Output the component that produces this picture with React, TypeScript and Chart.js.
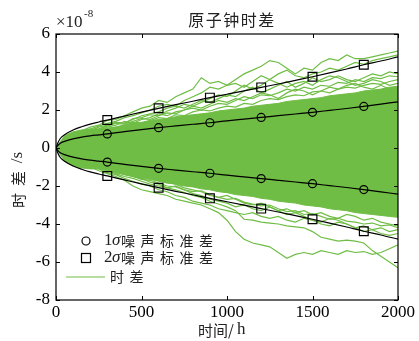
import React, { useEffect, useRef } from "react";
import { Chart, registerables } from "chart.js";
Chart.register(...registerables);

const hours = [0,50,100,150,200,250,300,350,400,450,500,550,600,650,700,750,800,850,900,950,1000,1050,1100,1150,1200,1250,1300,1350,1400,1450,1500,1550,1600,1650,1700,1750,1800,1850,1900,1950,2000];

const coreUpper = [0,0.65,0.85,0.95,1.0,1.0,1.05,1.1,1.2,1.3,1.35,1.45,1.5,1.55,1.65,1.7,1.75,1.8,1.85,1.95,2.0,2.05,2.1,2.2,2.25,2.3,2.35,2.45,2.5,2.55,2.6,2.65,2.75,2.8,2.85,2.9,3.0,3.05,3.1,3.2,3.25];
const coreLower = [0,-0.7,-0.95,-1.05,-1.1,-1.1,-1.2,-1.3,-1.4,-1.5,-1.6,-1.65,-1.75,-1.85,-1.9,-2.0,-2.05,-2.15,-2.2,-2.3,-2.35,-2.45,-2.5,-2.55,-2.65,-2.7,-2.8,-2.85,-2.9,-3.0,-3.05,-3.1,-3.2,-3.25,-3.3,-3.4,-3.45,-3.5,-3.55,-3.6,-3.65];

const clockA = [0,0.4,0.7,0.9,1.1,1.2,1.45,1.5,1.7,1.9,2.1,2.2,2.5,2.4,2.7,2.9,3.1,3.7,3.4,3.5,3.3,3.6,3.9,4.1,4.3,4.6,4.5,4.2,3.9,4.2,4.1,4.5,4.7,4.6,4.9,4.7,4.7,4.8,4.9,5.0,5.1];
const clockB = [0,0.3,0.6,0.8,1.0,1.15,1.3,1.4,1.6,1.7,1.85,2.0,2.2,2.3,2.2,2.5,2.7,2.9,3.2,3.1,3.3,3.4,3.2,3.5,3.8,3.6,3.9,4.1,3.8,3.7,3.9,4.0,4.2,4.1,4.3,4.5,4.4,4.6,4.7,4.8,4.9];
const clockC = [0,0.4,0.5,0.75,0.9,1.1,1.2,1.35,1.3,1.5,1.7,1.8,1.9,2.1,2.2,2.1,2.3,2.5,2.4,2.6,2.8,2.7,3.0,3.2,2.9,3.1,3.3,3.5,3.2,3.4,3.7,3.5,3.6,3.8,3.6,3.5,3.7,3.9,3.8,4.0,3.9];
const clockD = [0,0.2,0.5,0.6,0.8,0.95,1.1,1.2,1.4,1.3,1.5,1.6,1.8,1.7,1.9,2.0,2.2,2.1,2.3,2.5,2.4,2.6,2.5,2.7,2.9,2.8,2.6,2.9,3.1,3.0,2.8,3.0,3.2,3.1,3.3,3.4,3.2,3.1,3.3,3.1,3.0];
const clockE = [0,0.35,0.45,0.7,0.85,1.0,1.2,1.35,1.3,1.55,1.6,1.75,1.7,1.95,2.1,2.3,2.2,2.4,2.6,2.8,2.7,3.0,3.3,3.1,3.3,3.6,3.4,3.2,3.4,3.5,3.3,3.6,3.8,3.7,3.5,3.3,3.4,3.6,3.5,3.3,3.4];
const clockF = [0,-0.4,-0.6,-0.8,-1.0,-1.2,-1.35,-1.5,-1.7,-2.0,-2.2,-2.3,-2.4,-2.5,-2.7,-2.8,-2.9,-3.0,-3.2,-3.4,-3.8,-4.4,-4.8,-5.0,-5.1,-5.2,-5.5,-5.8,-5.6,-5.5,-5.6,-5.4,-5.5,-5.6,-5.4,-5.5,-5.45,-5.6,-5.5,-5.3,-5.1];
const clockG = [0,-0.3,-0.55,-0.7,-0.9,-1.05,-1.2,-1.35,-1.5,-1.6,-1.75,-1.9,-2.0,-2.1,-2.2,-2.35,-2.5,-2.6,-2.8,-2.95,-3.1,-3.3,-3.75,-3.8,-3.9,-3.95,-4.0,-4.1,-4.15,-4.2,-4.4,-4.7,-4.8,-4.9,-4.85,-4.9,-5.0,-5.4,-5.7,-6.0,-6.3];
const clockH = [0,-0.35,-0.5,-0.75,-0.95,-1.1,-1.3,-1.4,-1.6,-1.75,-1.9,-2.0,-2.2,-2.3,-2.5,-2.6,-2.8,-2.9,-3.0,-3.2,-3.3,-3.4,-3.5,-3.4,-3.6,-3.7,-3.6,-3.8,-3.9,-3.7,-3.8,-4.0,-4.1,-3.9,-4.0,-4.2,-4.4,-4.3,-4.5,-4.6,-4.5];
const clockI = [0,-0.3,-0.45,-0.6,-0.8,-0.95,-1.1,-1.25,-1.4,-1.5,-1.6,-1.8,-1.9,-2.1,-2.0,-2.2,-2.4,-2.5,-2.7,-2.8,-2.9,-3.1,-3.0,-3.2,-3.3,-3.1,-3.3,-3.5,-3.4,-3.6,-3.8,-3.9,-3.7,-3.8,-4.0,-4.2,-4.1,-4.3,-4.2,-4.4,-4.3];
const clockJ = [0,-0.25,-0.4,-0.6,-0.7,-0.85,-1.0,-1.1,-1.25,-1.4,-1.5,-1.6,-1.7,-1.8,-1.9,-2.1,-2.2,-2.3,-2.5,-2.6,-2.5,-2.7,-2.9,-3.0,-2.9,-3.1,-3.3,-3.2,-3.4,-3.3,-3.5,-3.4,-3.6,-3.7,-3.5,-3.6,-3.8,-3.7,-3.9,-4.0,-4.1];
const clockK = [0,0.3,0.55,0.7,0.9,1.0,1.15,1.3,1.25,1.4,1.55,1.5,1.7,1.85,1.8,2.0,2.1,2.0,2.2,2.35,2.3,2.5,2.7,2.6,2.8,2.75,2.9,3.1,3.0,3.2,3.1,3.3,3.25,3.45,3.4,3.6,3.5,3.7,3.65,3.8,3.75];
const clockL = [0,0.25,0.5,0.65,0.8,0.9,1.0,1.1,1.2,1.35,1.3,1.45,1.6,1.55,1.75,1.7,1.9,2.0,1.95,2.1,2.2,2.15,2.35,2.3,2.5,2.6,2.55,2.7,2.8,2.75,2.95,3.0,2.9,3.1,3.2,3.15,3.3,3.4,3.35,3.5,3.6];
const clockM = [0,-0.3,-0.5,-0.7,-0.85,-1.0,-1.15,-1.3,-1.35,-1.5,-1.65,-1.7,-1.85,-2.0,-2.05,-2.2,-2.3,-2.25,-2.45,-2.6,-2.7,-2.65,-2.85,-2.95,-3.05,-3.0,-3.2,-3.35,-3.3,-3.5,-3.45,-3.6,-3.75,-3.7,-3.85,-3.9,-4.0,-3.95,-4.1,-4.05,-4.2];

const clockSeries = [clockA, clockB, clockC, clockD, clockE, clockF, clockG, clockH, clockI, clockJ, clockK, clockL, clockM];

const sigmaHours = [0,10,25,50,100,150,200,250,300,400,500,600,700,800,900,1000,1100,1200,1300,1400,1500,1600,1700,1800,1900,2000];
const sigma1Upper = [0,0.12,0.25,0.35,0.48,0.57,0.64,0.69,0.74,0.86,0.97,1.07,1.16,1.25,1.33,1.43,1.52,1.61,1.70,1.79,1.88,1.98,2.08,2.19,2.31,2.43];
const sigma1Lower = [0,-0.12,-0.25,-0.35,-0.48,-0.57,-0.64,-0.69,-0.74,-0.86,-0.97,-1.07,-1.16,-1.25,-1.33,-1.43,-1.52,-1.61,-1.70,-1.79,-1.88,-1.98,-2.08,-2.19,-2.31,-2.43];
const sigma2Upper = [0,0.25,0.5,0.7,0.95,1.12,1.26,1.37,1.47,1.68,1.89,2.09,2.28,2.46,2.65,2.83,3.01,3.19,3.37,3.56,3.75,3.95,4.16,4.38,4.58,4.8];
const sigma2Lower = [0,-0.25,-0.5,-0.7,-0.95,-1.12,-1.26,-1.37,-1.47,-1.68,-1.89,-2.09,-2.28,-2.46,-2.65,-2.83,-3.01,-3.19,-3.37,-3.56,-3.75,-3.95,-4.16,-4.38,-4.58,-4.8];
const markerHours = [300,600,900,1200,1500,1800];

const xTicks = [0,500,1000,1500,2000];
const yTicks = [6,4,2,0,-2,-4,-6,-8];

const GREEN = "#6fbd45";
const SERIF = '"Liberation Serif", "Times New Roman", Times, "DejaVu Serif", serif';
const CJK = '"Noto Sans CJK SC", sans-serif';
const TEXT = "#222";

const pts = (xs: number[], ys: number[]) => xs.map((x, i) => ({ x, y: ys[i] }));

const decor = {
  id: "decor",
  afterDraw(chart: any) {
    const ctx = chart.ctx as CanvasRenderingContext2D;
    const a = chart.chartArea;
    const xs = chart.scales.x;
    const ys = chart.scales.y;
    ctx.save();
    ctx.strokeStyle = "#000";
    ctx.lineWidth = 1.2;
    ctx.strokeRect(a.left, a.top, a.right - a.left, a.bottom - a.top);
    ctx.lineWidth = 1;
    const tl = 4;
    xTicks.forEach((v) => {
      const px = Math.round(xs.getPixelForValue(v)) + 0.5;
      ctx.beginPath();
      ctx.moveTo(px, a.bottom);
      ctx.lineTo(px, a.bottom - tl);
      ctx.moveTo(px, a.top);
      ctx.lineTo(px, a.top + tl);
      ctx.stroke();
    });
    yTicks.forEach((v) => {
      const py = Math.round(ys.getPixelForValue(v)) + 0.5;
      ctx.beginPath();
      ctx.moveTo(a.left, py);
      ctx.lineTo(a.left + tl, py);
      ctx.moveTo(a.right, py);
      ctx.lineTo(a.right - tl, py);
      ctx.stroke();
    });
    ctx.fillStyle = TEXT;
    ctx.textBaseline = "middle";
    ctx.textAlign = "center";
    ctx.font = `16px ${CJK}`;
    (ctx as any).letterSpacing = "1.5px";
    ctx.fillText("原子钟时差", (a.left + a.right) / 2 + 5, 20);
    (ctx as any).letterSpacing = "0px";
    ctx.textAlign = "left";
    ctx.font = `17px ${SERIF}`;
    ctx.fillText("×10", a.left, 23);
    ctx.font = `11px ${SERIF}`;
    ctx.fillText("-8", a.left + 28, 14);
    // x title
    ctx.textAlign = "left";
    ctx.font = `15px ${CJK}`;
    ctx.fillText("时间/", 198, 330);
    ctx.font = `17px ${SERIF}`;
    ctx.fillText("h", 237, 330);
    // y title
    ctx.save();
    ctx.translate(18, 179);
    ctx.rotate(-Math.PI / 2);
    ctx.textAlign = "center";
    ctx.font = `15px ${CJK}`;
    ctx.fillText("时", -21.5, 0);
    ctx.fillText("差", 0.5, 0);
    ctx.font = `17px ${SERIF}`;
    ctx.fillText("/s", 21.5, 0);
    ctx.restore();
    // legend
    const lx = 86;
    ctx.strokeStyle = "#000";
    ctx.lineWidth = 1.2;
    ctx.beginPath();
    ctx.arc(lx, 241, 4, 0, Math.PI * 2);
    ctx.stroke();
    ctx.strokeRect(lx - 4.5, 253.5, 9, 9);
    ctx.strokeStyle = GREEN;
    ctx.beginPath();
    ctx.moveTo(66, 277);
    ctx.lineTo(105, 277);
    ctx.stroke();
    ctx.fillStyle = TEXT;
    ctx.textAlign = "left";
    const rows: [string, number][] = [["1", 241], ["2", 258]];
    rows.forEach(([d, y]) => {
      ctx.font = `17px ${SERIF}`;
      ctx.fillText(d, 104, y);
      ctx.font = `italic 17px ${SERIF}`;
      ctx.fillText("σ", 112, y);
      ctx.font = `14px ${CJK}`;
      (ctx as any).letterSpacing = "5.5px";
      ctx.fillText("噪声标准差", 121, y);
      (ctx as any).letterSpacing = "0px";
    });
    ctx.font = `14px ${CJK}`;
    (ctx as any).letterSpacing = "5.5px";
    ctx.fillText("时差", 110, 277);
    (ctx as any).letterSpacing = "0px";
    ctx.restore();
  },
};

export default function App() {
  const ref = useRef<HTMLCanvasElement>(null);
  useEffect(() => {
    document.body.style.margin = "0";
    const canvas = ref.current!;
    const greenLine = (data: number[]) => ({
      data: pts(hours, data),
      borderColor: GREEN,
      borderWidth: 1.2,
      pointRadius: 0,
      fill: false,
      tension: 0,
      order: 2,
    });
    const sigmaLine = (data: number[], style: string, r: number) => ({
      data: pts(sigmaHours, data),
      borderColor: "#000",
      borderWidth: 1.2,
      pointStyle: style,
      pointRadius: (c: any) => (c.raw && markerHours.includes(c.raw.x) ? r : 0),
      pointBorderColor: "#000",
      pointBorderWidth: 1.2,
      pointBackgroundColor: "rgba(0,0,0,0)",
      fill: false,
      cubicInterpolationMode: "monotone",
      order: 0,
    });
    const tickFont = { family: SERIF, size: 17 };
    const chart = new Chart(canvas, {
      type: "line",
      data: {
        datasets: [
          {
            data: pts(hours, coreUpper),
            borderColor: GREEN,
            borderWidth: 1,
            backgroundColor: GREEN,
            pointRadius: 0,
            fill: "+1",
            order: 3,
          },
          {
            data: pts(hours, coreLower),
            borderColor: GREEN,
            borderWidth: 1,
            pointRadius: 0,
            fill: false,
            order: 3,
          },
          ...clockSeries.map(greenLine),
          sigmaLine(sigma1Upper, "circle", 4),
          sigmaLine(sigma1Lower, "circle", 4),
          sigmaLine(sigma2Upper, "rect", 6.2),
          sigmaLine(sigma2Lower, "rect", 6.2),
        ] as any,
      },
      options: {
        animation: false,
        responsive: false,
        layout: { padding: { top: 34, right: 21, left: 0, bottom: 0 } },
        plugins: { legend: { display: false }, tooltip: { enabled: false }, title: { display: false } },
        scales: {
          x: {
            type: "linear",
            min: 0,
            max: 2000,
            afterBuildTicks: (s: any) => {
              s.ticks = xTicks.map((v) => ({ value: v }));
            },
            ticks: { font: tickFont, color: "#000", padding: 2, maxRotation: 0, callback: (v: any) => String(v) },
            grid: { display: false, drawTicks: false },
            border: { display: false },
            afterFit: (s: any) => {
              s.height = 41;
            },
          },
          y: {
            type: "linear",
            min: -8,
            max: 6,
            afterBuildTicks: (s: any) => {
              s.ticks = yTicks.map((v) => ({ value: v }));
            },
            ticks: { font: tickFont, color: "#000", padding: 6, callback: (v: any) => String(v) },
            grid: { display: false, drawTicks: false },
            border: { display: false },
            afterFit: (s: any) => {
              s.width = 56;
            },
          },
        },
      } as any,
      plugins: [decor],
    });
    return () => chart.destroy();
  }, []);
  return <canvas ref={ref} width={419} height={341} style={{ display: "block" }} />;
}
